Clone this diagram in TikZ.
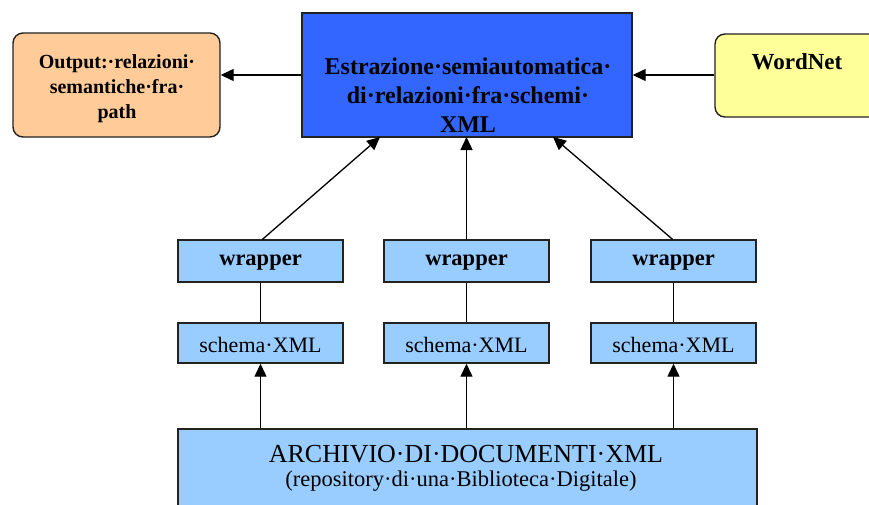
\documentclass[tikz,border=0pt]{standalone}
\usepackage{fontspec}
\setmainfont{Liberation Serif}
\usetikzlibrary{arrows.meta}

\definecolor{peach}{HTML}{FFCC99}
\definecolor{royal}{HTML}{3366FF}
\definecolor{paleyellow}{HTML}{FFFF99}
\definecolor{skyblue}{HTML}{99CCFF}
\definecolor{edge}{HTML}{222222}

\tikzset{
  box/.style={draw=edge, line width=1.4pt, inner sep=0pt},
  roundbox/.style={box, rounded corners=10pt},
  txt/.style={inner sep=0pt, align=center, font=\fontsize{22}{26}\selectfont},
  conn/.style={draw=black, line width=1.3pt},
  arr/.style={conn, -{Triangle[length=13pt,width=12pt]}},
}

\begin{document}
\begin{tikzpicture}[x=1pt,y=-1pt]
  \useasboundingbox (0,0) rectangle (869,504);
  \clip (0,0) rectangle (869,504);
  \fill[white] (0,0) rectangle (869,504);

  % top row
  \node[roundbox, fill=peach, minimum width=207pt, minimum height=104pt] (out) at (116.5,85) {};
  \node[txt, font=\fontsize{20}{25}\selectfont\bfseries] (outlbl) at (117,89)
    {Output:·relazioni·\\semantiche·fra·\\path};

  \node[box, fill=royal, minimum width=330pt, minimum height=124pt] (est) at (467,75) {};
  \node[txt, font=\fontsize{24}{29}\selectfont\bfseries] (estlbl) at (468,95)
    {Estrazione·semiautomatica·\\di·relazioni·fra·schemi·\\XML};

  \node[roundbox, fill=paleyellow, minimum width=166pt, minimum height=83pt] (wn) at (798,75.5) {};
  \node[txt, font=\fontsize{23}{26}\selectfont\bfseries] (wnlbl) at (797,62) {WordNet};

  % wrappers and schemas
  \foreach \n/\x in {1/260.5, 2/466.5, 3/673.5} {
    \node[box, fill=skyblue, minimum width=165pt, minimum height=42pt] (w\n) at (\x,261) {};
    \node[txt, font=\fontsize{22.5}{26}\selectfont\bfseries] (w\n lbl) at (\x,263) {wrapper};
    \node[box, fill=skyblue, minimum width=165pt, minimum height=40pt] (s\n) at (\x,343) {};
    \node[txt] (s\n lbl) at (\x,345) {schema·XML};
  }

  % archive
  \node[box, fill=skyblue, minimum width=579pt, minimum height=100pt] (arc) at (467.5,479) {};
  \node[txt, font=\fontsize{26}{30}\selectfont] (arc1) at (466,454) {ARCHIVIO·DI·DOCUMENTI·XML};
  \node[txt, font=\fontsize{22.5}{26}\selectfont] (arc2) at (461,481) {(repository·di·una·Biblioteca·Digitale)};

  % connectors
  \draw[arr] (est.west |- 0,75) -- (out.east |- 0,75);
  \draw[arr] (wn.west |- 0,75) -- (est.east |- 0,75);

  \coordinate (e1) at (380,137);
  \coordinate (e2) at (466.5,137);
  \coordinate (e3) at (553,137);
  \draw[arr] (w1.north) ++(2,0) -- (e1);
  \draw[arr] (w2.north) -- (e2);
  \draw[arr] (w3.north) ++(-1,0) -- (e3);

  \foreach \n in {1,2,3} {
    \draw[conn] (w\n.south) -- (s\n.north);
    \draw[arr] (s\n.south |- arc.north) -- (s\n.south);
  }
\end{tikzpicture}
\end{document}
